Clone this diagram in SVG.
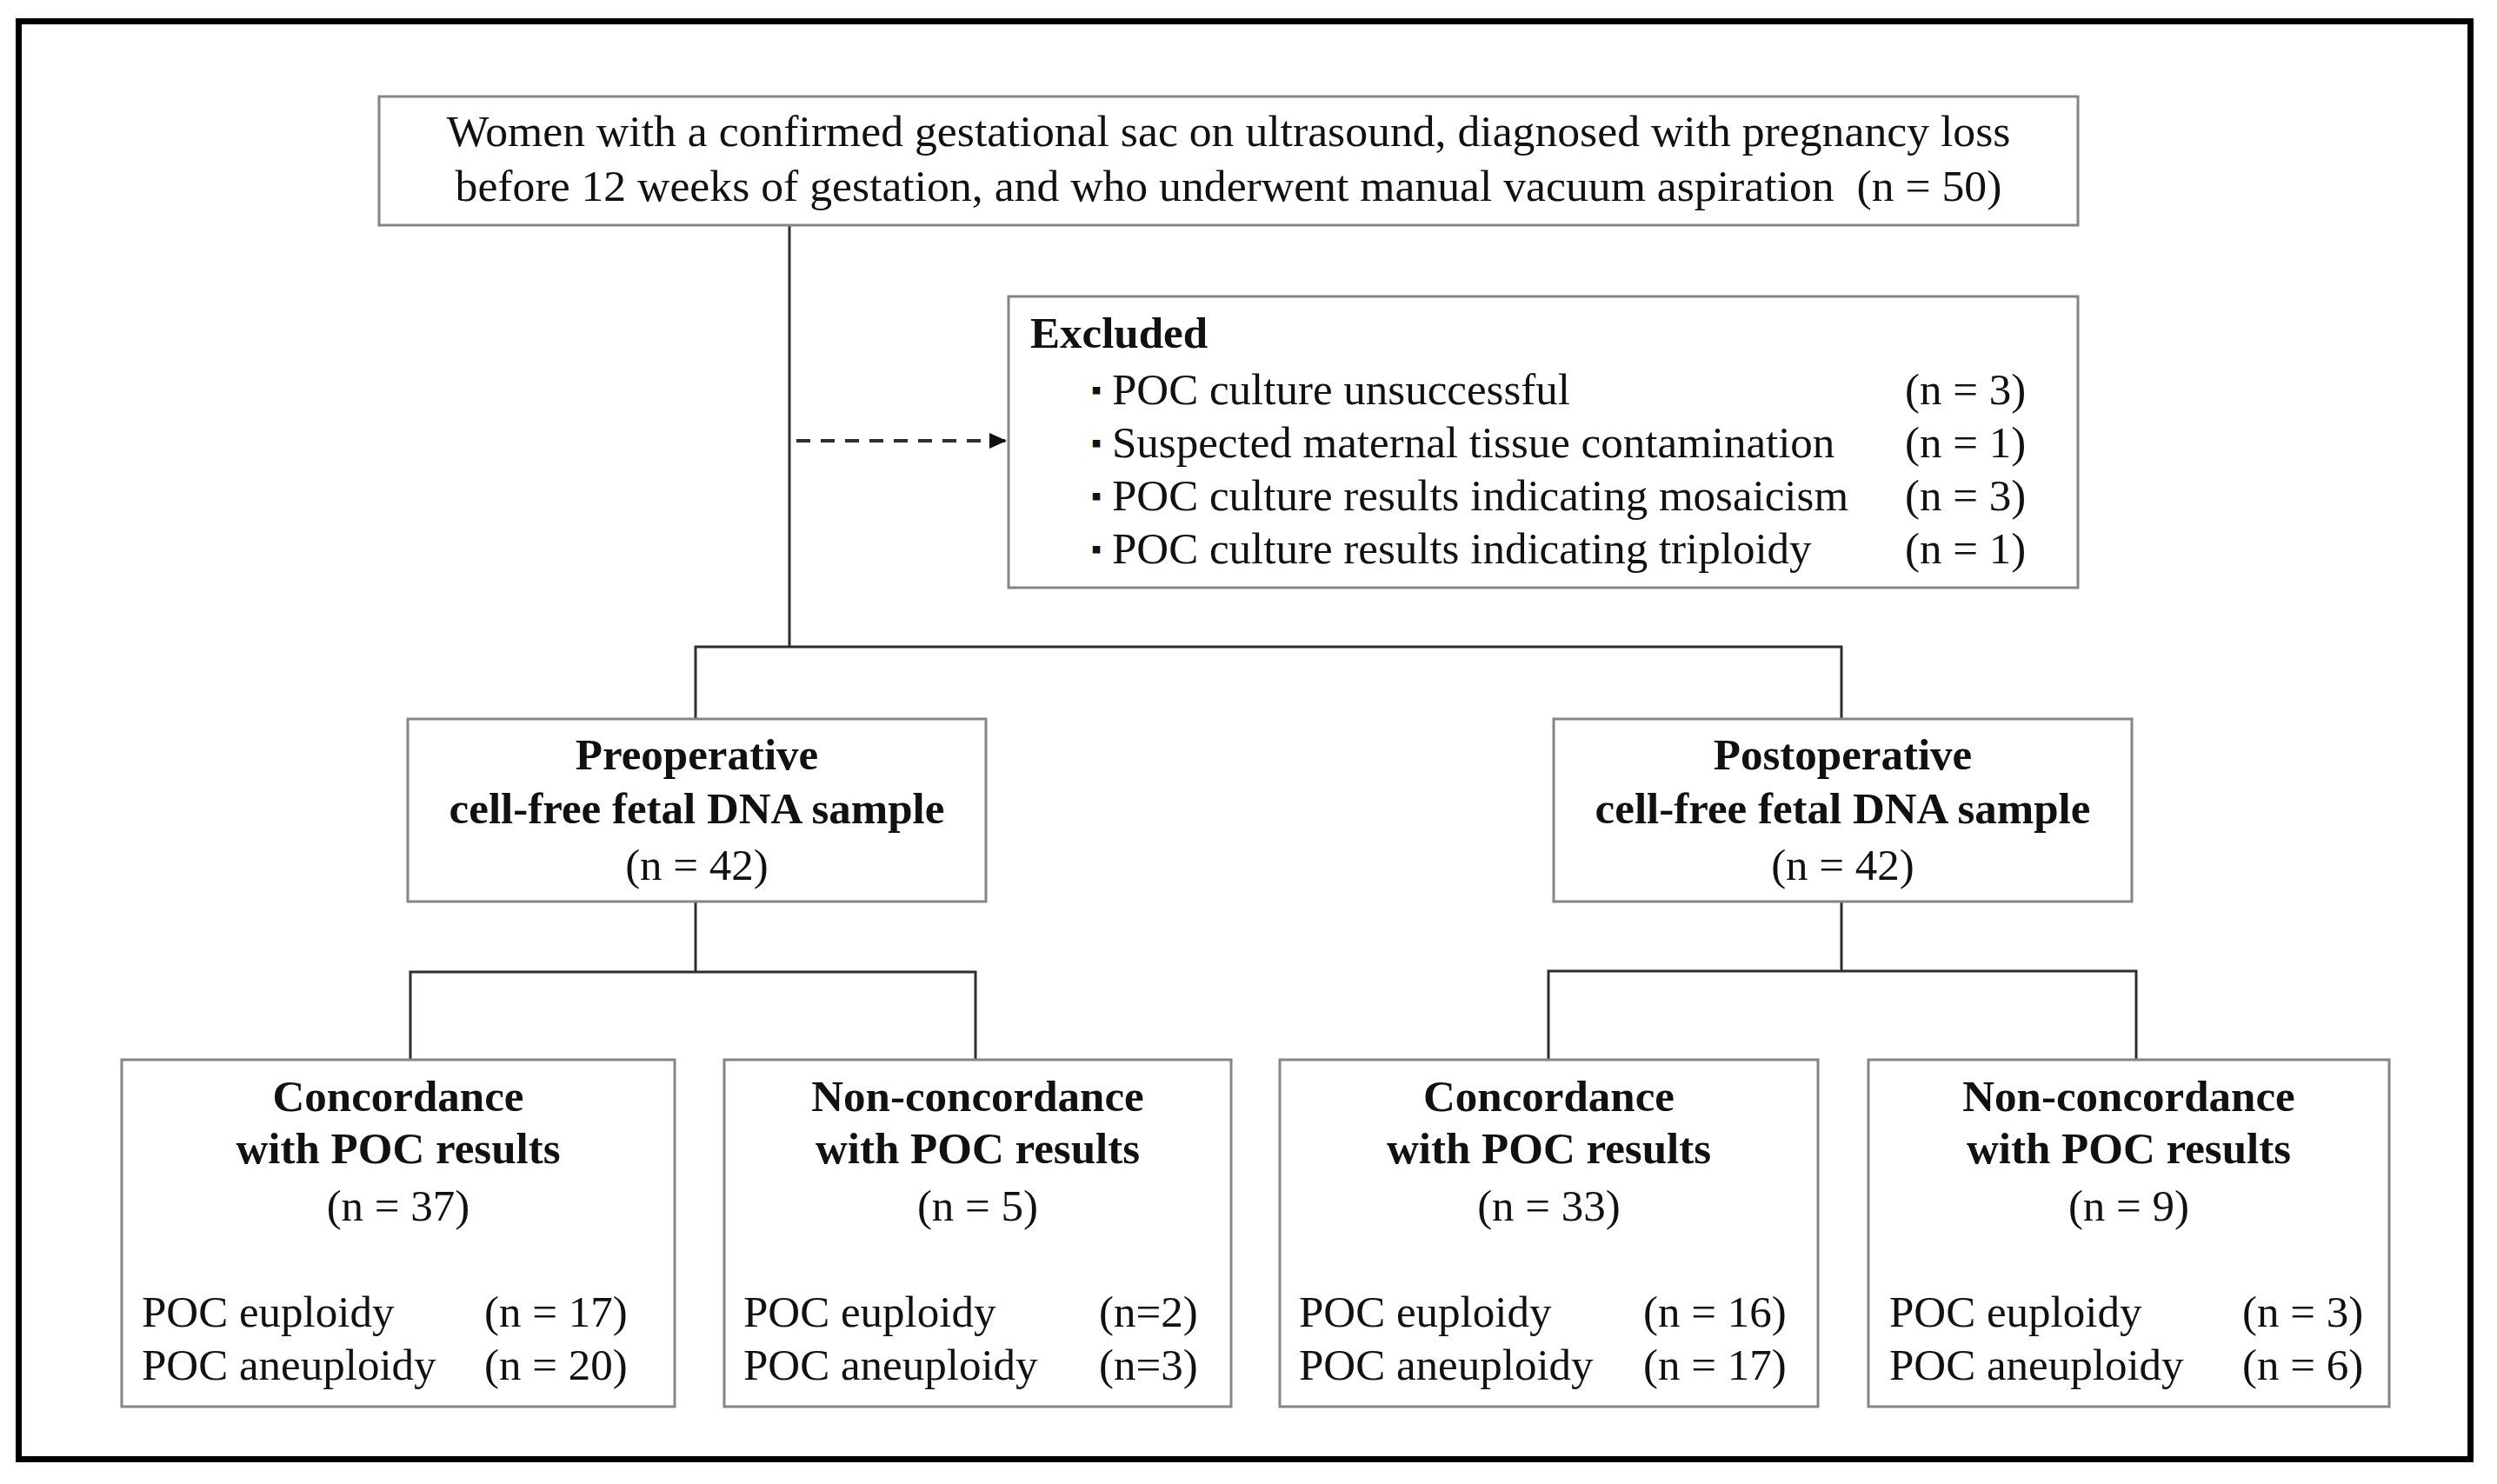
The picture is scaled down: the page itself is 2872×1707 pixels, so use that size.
<svg xmlns="http://www.w3.org/2000/svg" width="2872" height="1707" viewBox="0 0 2872 1707">
<style>
text{font-family:"Liberation Serif","Times New Roman",serif;font-size:51px;fill:#111}
.b{font-weight:bold}
.c{text-anchor:middle}
.t{font-size:51.7px}
.box{fill:#fff;stroke:#858585;stroke-width:3}
.ln{fill:none;stroke:#2e2e2e;stroke-width:3}
.dash{fill:none;stroke:#2e2e2e;stroke-width:4;stroke-dasharray:16 12}
.dot{font-size:34px}
</style>
<defs>
<marker id="ah" markerUnits="userSpaceOnUse" markerWidth="22" markerHeight="20" refX="20" refY="9" orient="auto">
<path d="M0,0 L20,9 L0,18 Z" fill="#111"/>
</marker>
</defs>
<rect x="0" y="0" width="2872" height="1707" fill="#fff"/>
<rect id="frame" x="21.5" y="24.5" width="2820" height="1654" fill="none" stroke="#000" stroke-width="7"/>

<g id="connectors">
<line class="ln" x1="908" y1="259" x2="908" y2="744"/>
<line class="dash" x1="916" y1="507" x2="1158" y2="507" marker-end="url(#ah)"/>
<polyline class="ln" points="800,827 800,744 2118,744 2118,827"/>
<line class="ln" x1="800" y1="1037" x2="800" y2="1118"/>
<polyline class="ln" points="472,1219 472,1118 1122,1118 1122,1219"/>
<line class="ln" x1="2118" y1="1037" x2="2118" y2="1117"/>
<polyline class="ln" points="1781,1219 1781,1117 2457,1117 2457,1219"/>
</g>

<g id="n-top">
<rect class="box" x="436" y="111" width="1954" height="148"/>
<text class="c t" x="1413" y="168">Women with a confirmed gestational sac on ultrasound, diagnosed with pregnancy loss</text>
<text class="c t" x="1413" y="231" xml:space="preserve">before 12 weeks of gestation, and who underwent manual vacuum aspiration  (n = 50)</text>
</g>

<g id="n-excluded">
<rect class="box" x="1160" y="341" width="1230" height="335"/>
<text class="b" x="1185" y="400">Excluded</text>
<text><tspan class="dot" x="1255" y="460">▪</tspan><tspan x="1279" y="465">POC culture unsuccessful</tspan></text>
<text><tspan class="dot" x="1255" y="521">▪</tspan><tspan x="1279" y="526">Suspected maternal tissue contamination</tspan></text>
<text><tspan class="dot" x="1255" y="582">▪</tspan><tspan x="1279" y="587">POC culture results indicating mosaicism</tspan></text>
<text><tspan class="dot" x="1255" y="643">▪</tspan><tspan x="1279" y="648">POC culture results indicating triploidy</tspan></text>
<text x="2191" y="465">(n = 3)</text>
<text x="2191" y="526">(n = 1)</text>
<text x="2191" y="587">(n = 3)</text>
<text x="2191" y="648">(n = 1)</text>
</g>

<g id="n-preop">
<rect class="box" x="469" y="827" width="665" height="210"/>
<text class="c b" x="801.5" y="885">Preoperative</text>
<text class="c b" x="801.5" y="947">cell-free fetal DNA sample</text>
<text class="c" x="801.5" y="1012">(n = 42)</text>
</g>

<g id="n-postop">
<rect class="box" x="1787" y="827" width="665" height="210"/>
<text class="c b" x="2119.5" y="885">Postoperative</text>
<text class="c b" x="2119.5" y="947">cell-free fetal DNA sample</text>
<text class="c" x="2119.5" y="1012">(n = 42)</text>
</g>

<g id="n-pre-conc">
<rect class="box" x="140" y="1219" width="636" height="399"/>
<text class="c b" x="458" y="1278">Concordance</text>
<text class="c b" x="458" y="1338">with POC results</text>
<text class="c" x="458" y="1404">(n = 37)</text>
<text x="163" y="1526">POC euploidy</text>
<text x="163" y="1587">POC aneuploidy</text>
<text x="557" y="1526">(n = 17)</text>
<text x="557" y="1587">(n = 20)</text>
</g>

<g id="n-pre-nonconc">
<rect class="box" x="833" y="1219" width="583" height="399"/>
<text class="c b" x="1124.5" y="1278">Non-concordance</text>
<text class="c b" x="1124.5" y="1338">with POC results</text>
<text class="c" x="1124.5" y="1404">(n = 5)</text>
<text x="855" y="1526">POC euploidy</text>
<text x="855" y="1587">POC aneuploidy</text>
<text x="1264" y="1526">(n=2)</text>
<text x="1264" y="1587">(n=3)</text>
</g>

<g id="n-post-conc">
<rect class="box" x="1472" y="1219" width="619" height="399"/>
<text class="c b" x="1781.5" y="1278">Concordance</text>
<text class="c b" x="1781.5" y="1338">with POC results</text>
<text class="c" x="1781.5" y="1404">(n = 33)</text>
<text x="1494" y="1526">POC euploidy</text>
<text x="1494" y="1587">POC aneuploidy</text>
<text x="1890" y="1526">(n = 16)</text>
<text x="1890" y="1587">(n = 17)</text>
</g>

<g id="n-post-nonconc">
<rect class="box" x="2149" y="1219" width="599" height="399"/>
<text class="c b" x="2448.5" y="1278">Non-concordance</text>
<text class="c b" x="2448.5" y="1338">with POC results</text>
<text class="c" x="2448.5" y="1404">(n = 9)</text>
<text x="2173" y="1526">POC euploidy</text>
<text x="2173" y="1587">POC aneuploidy</text>
<text x="2579" y="1526">(n = 3)</text>
<text x="2579" y="1587">(n = 6)</text>
</g>
</svg>
